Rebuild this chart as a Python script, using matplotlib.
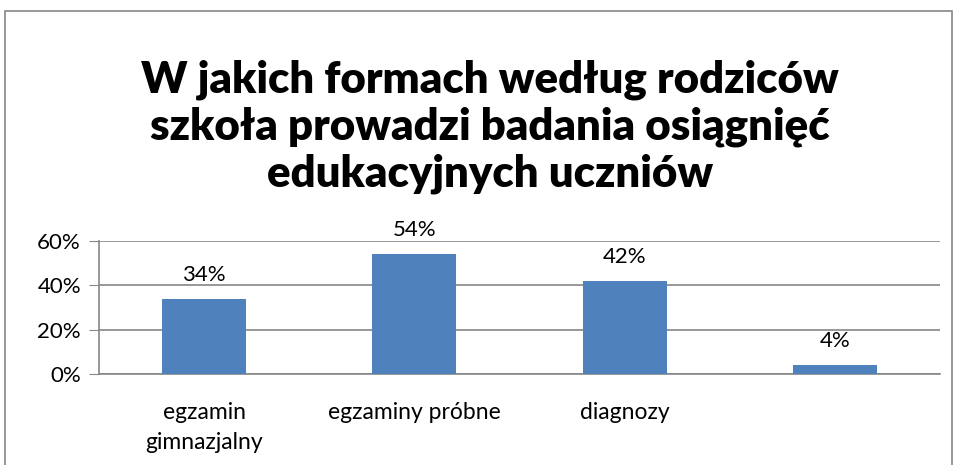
import matplotlib.pyplot as plt
from matplotlib.patches import Rectangle

categories = ["egzamin\ngimnazjalny", "egzaminy próbne", "diagnozy", ""]
values = [34, 54, 42, 4]
yticks = [0, 20, 40, 60]
title = "W jakich formach według rodziców\nszkoła prowadzi badania osiągnięć\nedukacyjnych uczniów"

plt.rcParams['font.family'] = ['Lato', 'DejaVu Sans']

fig = plt.figure(figsize=(9.57, 4.65), dpi=100)
ax = fig.add_axes([0.1034, 0.1957, 0.8788, 0.286])

x = range(len(values))
bars = ax.bar(x, values, width=0.4, color="#4F81BD", zorder=3)
for i, v in enumerate(values):
    ax.annotate(f"{v}%", (i, v), xytext=(0, 10), textcoords="offset points",
                ha="center", va="bottom", fontsize=16)

ax.set_xlim(-0.5, len(values) - 0.5)
ax.set_ylim(0, 60)
ax.set_yticks(yticks)
ax.set_yticklabels([f"{t}%" for t in yticks], fontsize=16)
ax.set_xticks(list(x))
ax.set_xticklabels(categories, fontsize=16.5, linespacing=1.55, va="top")
ax.tick_params(axis="x", length=0, pad=20)
ax.tick_params(axis="y", length=7, color="#868686", pad=6)
ax.yaxis.grid(True, color="#868686", linewidth=1.2, zorder=0)
for s in ["top", "right"]:
    ax.spines[s].set_visible(False)
ax.spines["left"].set_color("#868686")
ax.spines["bottom"].set_color("#868686")
ax.spines["left"].set_linewidth(1.2)
ax.spines["bottom"].set_linewidth(1.2)

fig.text(0.512, 0.728, title, ha="center", va="center", fontsize=31.5,
         fontweight="heavy", linespacing=1.2)

fig.patches.append(Rectangle((5 / 957, -0.05), 947 / 957, 1.05 - 11 / 465,
                             transform=fig.transFigure, fill=False,
                             edgecolor="#868686", linewidth=1.2))

fig.savefig("out.png", dpi=100)
